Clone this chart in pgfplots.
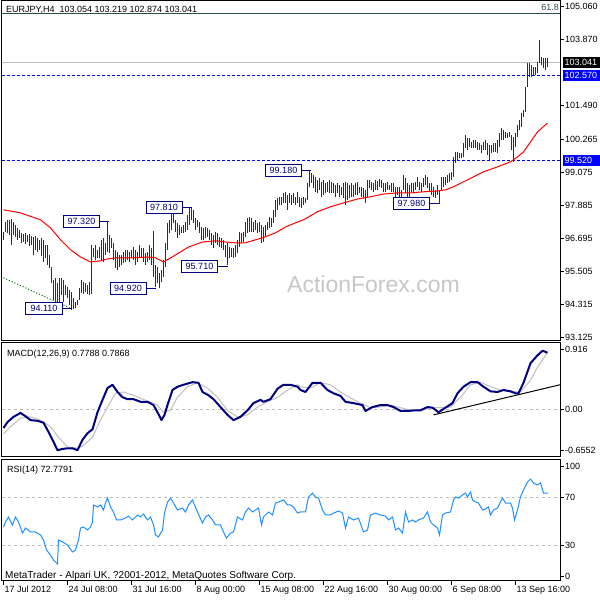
\documentclass[border=0pt]{standalone}
\usepackage{fontspec}
\setmainfont{Liberation Sans}
\usepackage{pgfplots}
\usepackage{pgfplotstable}
\pgfplotsset{compat=1.18}
\definecolor{barcol}{RGB}{16,54,84}
\definecolor{navy}{RGB}{0,0,128}
\definecolor{mtblue}{RGB}{0,0,255}
\definecolor{slate}{RGB}{47,79,79}
\definecolor{silver}{RGB}{192,192,192}
\definecolor{dodger}{RGB}{30,144,255}
\definecolor{mared}{RGB}{255,0,0}
\tikzset{wfont/.style={font=\fontsize{9}{10}\selectfont}}

\pgfplotstableread{
x h l
3 96.93 96.65
5 97.29 96.93
7 97.37 96.90
9 97.37 96.83
11 97.40 96.47
13 97.29 96.83
15 97.19 96.75
17 97.08 96.65
19 97.01 96.72
21 96.90 96.54
23 96.86 96.57
25 96.90 96.50
27 96.83 96.57
29 96.86 96.43
31 96.79 96.47
33 96.75 96.10
35 96.79 96.29
37 96.72 96.21
39 96.65 96.29
41 96.72 96.07
43 96.65 95.85
45 96.47 96.00
47 96.47 95.74
49 96.10 95.64
51 95.67 95.09
53 95.20 94.48
55 95.27 94.30
57 95.09 94.19
59 95.27 94.37
61 95.27 94.66
63 95.20 94.41
65 95.02 94.66
67 94.95 94.55
69 94.84 94.30
71 94.77 94.12
73 94.55 94.16
75 94.41 94.19
77 94.48 94.30
79 94.91 94.48
81 95.20 94.73
83 95.13 94.70
85 95.09 94.77
87 95.02 94.70
89 95.13 94.66
91 96.47 94.70
93 96.36 96.03
95 96.47 95.92
97 96.29 96.00
99 96.39 96.00
101 96.65 95.92
103 96.72 95.85
105 96.54 96.10
107 97.33 96.21
109 96.83 96.18
111 96.72 96.36
113 96.54 95.92
115 96.29 95.64
117 96.21 95.56
119 96.10 95.67
121 96.10 95.74
123 96.21 95.82
125 96.29 95.85
127 96.29 95.92
129 96.21 95.85
131 96.29 96.00
133 96.39 95.92
135 96.29 95.74
137 96.21 95.85
139 96.47 96.00
141 96.36 96.00
143 96.36 95.85
145 96.18 95.74
147 96.21 95.85
149 96.47 95.92
151 96.36 95.74
153 96.97 95.31
155 95.74 94.95
157 95.67 95.09
159 95.46 94.91
161 95.56 95.13
163 95.92 95.31
165 96.54 95.67
167 97.26 96.29
169 97.37 96.90
171 97.66 97.01
173 97.84 97.26
175 97.37 96.93
177 97.26 96.72
179 97.19 96.83
181 97.11 96.90
183 97.19 96.90
185 97.29 96.93
187 97.55 97.01
189 97.80 97.19
191 97.84 97.37
193 97.73 97.26
195 97.44 97.01
197 97.37 97.11
199 97.29 96.90
201 97.11 96.65
203 97.08 96.65
205 97.11 96.72
207 97.08 96.75
209 97.01 96.65
211 96.90 96.47
213 96.83 96.36
215 96.93 96.54
217 96.90 96.47
219 96.75 96.39
221 96.72 96.36
223 96.65 96.29
225 96.47 96.03
227 96.54 95.74
229 96.39 96.00
231 96.36 96.03
233 96.36 96.00
235 96.47 96.03
237 96.65 96.18
239 96.93 96.39
241 96.90 96.54
243 96.93 96.57
245 97.29 96.75
247 97.44 96.90
249 97.48 96.93
251 97.44 96.93
253 97.29 96.93
255 97.37 97.01
257 97.26 96.90
259 97.29 96.93
261 97.19 96.54
263 97.11 96.57
265 97.19 96.75
267 97.29 97.01
269 97.48 97.08
271 97.44 97.11
273 97.73 97.26
275 98.09 97.48
277 98.16 97.73
279 98.20 97.91
281 98.20 97.91
283 98.34 97.98
285 98.38 97.98
287 98.27 97.73
289 98.34 97.98
291 98.27 97.91
293 98.34 97.98
295 98.20 97.91
297 98.38 97.98
299 98.20 97.84
301 98.16 97.80
303 98.20 97.91
305 98.16 97.98
307 98.70 98.09
309 99.17 98.56
311 99.06 98.70
313 98.99 98.52
315 98.92 98.38
317 98.81 98.34
319 98.88 98.45
321 98.74 98.20
323 98.81 98.27
325 98.70 98.34
327 98.74 98.38
329 98.81 98.34
331 98.74 98.34
333 98.70 98.34
335 98.63 98.20
337 98.70 98.34
339 98.63 98.20
341 98.56 98.27
343 98.70 98.16
345 98.74 97.91
347 98.70 98.09
349 98.63 98.16
351 98.70 98.20
353 98.63 98.20
355 98.70 98.27
357 98.74 98.27
359 98.56 98.34
361 98.56 98.20
363 98.52 98.16
365 98.45 97.98
367 98.81 98.20
369 98.81 98.52
371 98.74 98.45
373 98.70 98.38
375 98.81 98.45
377 98.77 98.45
379 98.84 98.56
381 98.81 98.52
383 98.70 98.38
385 98.70 98.38
387 98.74 98.45
389 98.63 98.45
391 98.70 98.38
393 98.70 98.38
395 98.56 98.20
397 98.56 98.27
399 98.56 98.20
401 98.45 98.16
403 98.99 98.45
405 98.88 98.34
407 98.70 98.20
409 98.63 98.20
411 98.70 98.38
413 98.70 98.38
415 98.74 98.45
417 98.92 98.56
419 98.74 98.45
421 98.70 98.38
423 98.88 98.56
425 98.99 98.63
427 98.92 98.52
429 98.70 98.38
431 98.70 98.27
433 98.56 98.20
435 98.45 98.16
437 98.63 98.27
439 98.45 97.98
441 98.92 98.45
443 98.92 98.56
445 98.92 98.63
447 98.99 98.70
449 99.06 98.74
451 99.10 98.81
453 99.64 98.92
455 99.82 99.42
457 99.82 99.53
459 99.78 99.60
461 99.78 99.60
463 100.14 99.64
465 100.43 99.96
467 100.32 99.89
469 100.32 100.00
471 100.18 99.96
473 100.25 99.96
475 100.25 99.96
477 100.18 99.89
479 100.14 99.89
481 100.07 99.78
483 100.18 99.89
485 100.25 99.89
487 100.14 99.71
489 100.07 99.53
491 100.07 99.78
493 100.14 99.82
495 100.14 99.82
497 100.25 99.78
499 100.50 100.00
501 100.68 100.25
503 100.61 100.25
505 100.54 100.32
507 100.50 100.32
509 100.54 100.36
511 100.43 99.89
513 100.36 99.46
515 100.50 100.00
517 100.79 100.36
519 100.97 100.61
521 101.23 100.72
523 101.33 101.08
525 102.16 101.26
527 103.03 102.16
529 103.03 102.52
531 102.96 102.52
533 102.88 102.60
535 102.88 102.60
537 103.06 102.67
539 103.86 103.03
541 103.24 102.96
543 103.21 102.85
545 103.21 102.78
547 103.21 102.88
}\bars

\pgfplotsset{
  mtpanel/.style={
    scale only axis, width=558pt, xmin=1.5, xmax=559.5,
    axis line style={line width=1pt, black},
    xtick=\empty, ytick pos=right, yticklabel pos=right,
    tick align=outside, major tick length=4pt,
    tick style={black, line width=0.8pt},
    yticklabel style={font=\fontsize{9}{10}\selectfont, anchor=west, inner sep=0pt, xshift=1pt},
    /pgf/number format/assume math mode=true,
    clip mode=individual,
  },
}

\begin{document}
\begin{tikzpicture}
\path[fill=white, use as bounding box] (0pt,0pt) rectangle (600pt,600pt);

% ---------------- main price panel ----------------
\begin{axis}[mtpanel, at={(2pt,599pt)}, anchor=north west, height=340pt,
  ymin=93.00, ymax=105.26,
  ytick={105.06,103.87,101.49,100.265,99.075,97.885,96.695,95.505,94.315,93.125},
  yticklabels={105.060,103.870,101.490,100.265,99.075,97.885,96.695,95.505,94.315,93.125}]
\addplot[slate, line width=1pt] coordinates {(1.5,104.80) (559.5,104.80)};
\addplot[silver, line width=1pt] coordinates {(1.5,103.041) (559.5,103.041)};
\addplot[mtblue, line width=1pt, dash pattern=on 3pt off 2pt] coordinates {(1.5,102.57) (559.5,102.57)};
\addplot[mtblue, line width=1pt, dash pattern=on 3pt off 2pt] coordinates {(1.5,99.52) (559.5,99.52)};
\addplot[green!40!black, line width=1pt, dash pattern=on 1pt off 2pt] coordinates {(3,95.28) (71,94.16)};
\addplot[draw=none, mark=none, error bars/.cd, y dir=plus, y explicit, error mark=none,
  error bar style={draw=barcol, line width=1pt, solid}]
  table[x=x, y=l, y error expr=\thisrow{h}-\thisrow{l}] {\bars};
\addplot[mared, line width=1pt] coordinates {
(3,97.73) (20,97.62) (40,97.37) (50,97.08) (60,96.65) (70,96.29) (80,96.03) (90,95.85)
(100,95.89) (107,95.96) (117,96.00) (133,96.00) (147,96.03) (155,96.00) (163,95.85)
(175,96.10) (188,96.39) (202,96.57) (215,96.61) (225,96.57) (235,96.54) (245,96.54)
(255,96.65) (262,96.72) (275,96.90) (285,97.11) (295,97.26) (303,97.37) (317,97.66)
(330,97.84) (343,97.98) (357,98.12) (370,98.20) (383,98.30) (397,98.34) (410,98.34)
(423,98.38) (437,98.41) (445,98.45) (453,98.56) (463,98.74) (473,98.92) (483,99.10)
(497,99.28) (510,99.46) (517,99.64) (523,99.82) (530,100.18) (537,100.54) (547,100.86)};
% price labels
\foreach \cx/\cy/\lx/\ex/\txt in {43.5/94.16/62/71/94.110, 81/97.31/99/108/97.320,
   127.5/94.91/146/155/94.920, 163.5/97.82/181/191/97.810, 199/95.69/217/227/95.710,
   283/99.15/301/310/99.180, 411/97.96/429/439/97.980}{
  \edef\tmp{\noexpand\draw[navy, line width=1pt] (axis cs:\lx,\cy) -- (axis cs:\ex,\cy);}\tmp
  \edef\tmp{\noexpand\node[draw=navy, line width=1pt, fill=white, text=navy, wfont, inner sep=0pt,
     minimum width=36pt, minimum height=12pt] at (axis cs:\cx,\cy) {\txt};}\tmp
}
\node[anchor=west, fill=black, text=white, wfont, inner xsep=2pt, inner ysep=0pt,
  minimum height=11pt, text width=33pt, align=left] at (axis cs:559.5,103.041) [xshift=2.5pt] {103.041};
\node[anchor=west, fill=mtblue, text=white, wfont, inner xsep=2pt, inner ysep=0pt,
  minimum height=11pt, text width=33pt, align=left] at (axis cs:559.5,102.57) [xshift=2.5pt] {102.570};
\node[anchor=west, fill=mtblue, text=white, wfont, inner xsep=2pt, inner ysep=0pt,
  minimum height=11pt, text width=33pt, align=left] at (axis cs:559.5,99.52) [xshift=2.5pt] {99.520};
\end{axis}

% ---------------- MACD panel ----------------
\begin{axis}[mtpanel, at={(2pt,257pt)}, anchor=north west, height=114pt,
  ymin=-0.733, ymax=1.008,
  ytick={0.916,0,-0.626}, yticklabels={0.916,0.00,-0.6552}]
\addplot[silver, line width=1pt, dash pattern=on 3pt off 3pt] coordinates {(1.5,0) (559.5,0)};
\addplot[silver, line width=1pt] coordinates {
(3,-0.38) (10,-0.27) (20,-0.14) (30,-0.12) (40,-0.17) (50,-0.27) (58,-0.43) (67,-0.58)
(77,-0.60) (83,-0.56) (92,-0.43) (100,-0.17) (107,0.03) (115,0.24) (123,0.26) (133,0.21)
(147,0.12) (157,0.06) (163,-0.05) (170,-0.02) (177,0.18) (187,0.34) (197,0.40) (207,0.32)
(217,0.18) (227,-0.02) (237,-0.12) (247,-0.09) (257,0.03) (267,0.11) (277,0.18) (287,0.29)
(297,0.37) (300,0.34) (310,0.32) (320,0.40) (330,0.37) (340,0.26) (350,0.17) (360,0.09)
(370,0.02) (380,0.03) (390,0.06) (400,0.02) (410,-0.02) (420,-0.02) (430,0.02) (440,0.02)
(450,0.03) (460,0.18) (470,0.37) (480,0.41) (490,0.34) (500,0.29) (510,0.26) (520,0.26)
(530,0.44) (537,0.64) (547,0.86)};
\addplot[navy, line width=2pt, line join=round] coordinates {
(3,-0.29) (7,-0.20) (13,-0.12) (20,-0.06) (25,-0.11) (30,-0.17) (37,-0.18) (43,-0.21)
(48,-0.35) (53,-0.50) (57,-0.63) (62,-0.61) (67,-0.60) (72,-0.60) (77,-0.63) (82,-0.47)
(87,-0.37) (92,-0.31) (97,-0.05) (102,0.14) (107,0.32) (112,0.37) (117,0.26) (122,0.18)
(127,0.15) (133,0.15) (140,0.11) (147,0.11) (153,0.06) (157,-0.05) (161,-0.17) (164,-0.09)
(167,0.06) (172,0.29) (177,0.34) (183,0.37) (192,0.41) (198,0.40) (202,0.26) (208,0.21)
(213,0.15) (220,0.03) (227,-0.09) (233,-0.17) (240,-0.12) (247,-0.02) (253,0.09) (260,0.14)
(263,0.11) (270,0.15) (277,0.31) (283,0.37) (290,0.37) (297,0.34) (300,0.29) (305,0.26)
(312,0.40) (320,0.40) (327,0.29) (333,0.24) (340,0.20) (345,0.11) (353,0.09) (362,0.06)
(365,-0.03) (372,0.03) (380,0.06) (387,0.06) (393,0.03) (400,-0.03) (407,-0.03) (415,-0.02)
(420,-0.02) (427,0.03) (432,0.02) (438,-0.05) (445,0.02) (452,0.09) (457,0.24) (463,0.34)
(470,0.41) (477,0.41) (483,0.34) (490,0.27) (497,0.26) (503,0.29) (510,0.27) (515,0.24)
(518,0.24) (523,0.40) (530,0.70) (537,0.82) (542,0.89) (547,0.86)};
\addplot[black, line width=1pt] coordinates {(433,-0.09) (559.5,0.37)};
\end{axis}

% ---------------- RSI panel ----------------
\begin{axis}[mtpanel, at={(2pt,140pt)}, anchor=north west, height=121pt,
  ymin=0, ymax=101.7,
  ytick={4.2,30,70,96.6}, yticklabels={0,30,70,100},
  xtick={3,67,131,195,259,323,387,451,515},
  xticklabels={17 Jul 2012,24 Jul 08:00,31 Jul 16:00,8 Aug 00:00,15 Aug 08:00,22 Aug 16:00,30 Aug 00:00,6 Sep 08:00,13 Sep 16:00},
  xtick pos=bottom,
  xticklabel style={font=\fontsize{9}{10}\selectfont, anchor=north west, inner sep=0pt, xshift=1pt, yshift=-1pt}]
\addplot[silver, line width=1pt, dash pattern=on 3pt off 3pt] coordinates {(1.5,70) (559.5,70)};
\addplot[silver, line width=1pt, dash pattern=on 3pt off 3pt] coordinates {(1.5,30) (559.5,30)};
\addplot[dodger, line width=1pt] coordinates {
(3,45.4) (5,49.6) (8,53.8) (12,47.1) (15,53.8) (18,49.6) (22,40.3) (25,44.5) (30,41.2)
(35,41.2) (40,38.7) (43,34.5) (46,26.1) (50,21.8) (53,17.6) (57,14.3) (58,34.5) (62,32.8)
(67,30.3) (72,24.4) (75,26.1) (78,34.5) (80,44.5) (83,45.4) (87,42.9) (90,45.4) (92,49.6)
(93,63.9) (97,62.2) (100,63.9) (103,59.7) (105,65.5) (107,69.7) (110,62.2) (113,58.0)
(116,51.3) (120,51.3) (125,52.9) (128,54.6) (132,51.3) (137,55.5) (140,53.8) (143,56.3)
(147,51.3) (150,53.8) (153,47.1) (155,38.7) (158,37.0) (162,42.9) (164,57.1) (167,66.4)
(170,69.7) (173,65.5) (177,59.7) (182,61.3) (185,58.0) (188,63.9) (192,68.1) (197,58.0)
(202,48.7) (205,53.8) (208,55.5) (212,51.3) (215,47.1) (220,47.1) (223,41.2) (226,36.1)
(230,40.3) (233,41.2) (237,53.8) (242,51.3) (245,58.0) (248,61.3) (252,58.0) (255,59.7)
(258,61.3) (261,47.1) (263,53.8) (268,58.0) (272,55.5) (275,65.5) (278,66.4) (283,68.1)
(287,63.9) (290,63.9) (293,62.2) (297,57.1) (300,58.0) (305,58.0) (308,70.6) (312,73.9)
(315,70.6) (318,69.7) (322,59.7) (325,55.5) (330,55.5) (333,57.1) (338,58.8) (342,57.1)
(345,44.5) (348,53.8) (353,51.3) (358,52.9) (363,41.2) (367,42.9) (370,55.5) (375,57.1)
(380,55.5) (385,54.6) (388,51.3) (392,53.8) (395,42.9) (398,44.5) (402,40.3) (405,58.0)
(408,49.6) (412,51.3) (415,49.6) (418,51.3) (423,52.9) (427,58.0) (430,49.6) (433,47.1)
(437,44.5) (439,38.7) (442,55.5) (445,57.1) (450,58.0) (453,68.1) (455,70.6) (458,69.7)
(462,72.3) (465,73.9) (467,70.6) (470,74.8) (472,68.1) (475,66.4) (478,65.5) (482,59.7)
(485,60.5) (488,62.2) (490,55.5) (493,59.7) (497,61.3) (500,66.4) (502,69.7) (505,65.5)
(510,65.5) (512,61.3) (514,51.3) (517,59.7) (520,70.6) (523,76.5) (527,83.2) (530,85.7)
(533,82.4) (537,80.7) (540,82.4) (543,73.9) (547,73.9)};
\end{axis}

% ---------------- texts ----------------
\node[anchor=base west, wfont, inner sep=0pt] at (6pt,587pt) {EURJPY,H4\ \ 103.054 103.219 102.874 103.041};
\node[anchor=base east, wfont, text=slate, inner sep=0pt] at (559pt,589pt) {61.8};
\node[anchor=base west, text=black!22, font=\fontsize{23}{24}\selectfont, inner sep=0pt] at (287pt,307pt) {ActionForex.com};
\node[anchor=base west, wfont, inner sep=0pt] at (7pt,243pt) {MACD(12,26,9) 0.7788 0.7868};
\node[anchor=base west, wfont, inner sep=0pt] at (7pt,127pt) {RSI(14) 72.7791};
\node[anchor=base west, font=\fontsize{10}{11}\selectfont, inner sep=0pt] at (5pt,21pt) {MetaTrader - Alpari UK, ?2001-2012, MetaQuotes Software Corp.};
\end{tikzpicture}
\end{document}
